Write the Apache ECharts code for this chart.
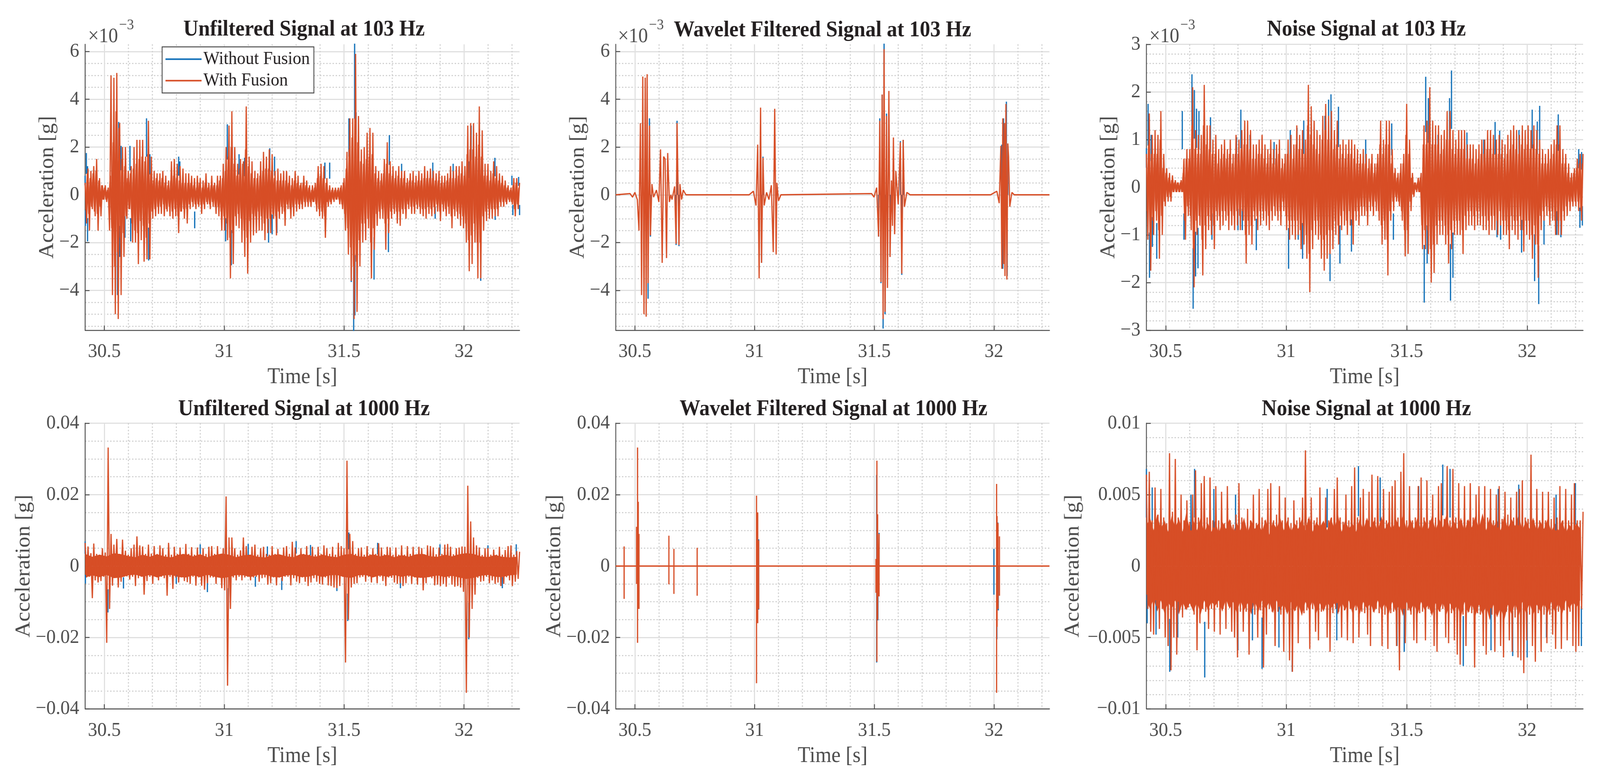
<!DOCTYPE html>
<html>
<head>
<meta charset="utf-8">
<title>Signals</title>
<style>html,body{margin:0;padding:0;background:#fff;overflow:hidden}#main{width:4342px;height:1997px;transform-origin:0 0}</style>
<script src="https://cdn.jsdelivr.net/npm/echarts@6/dist/echarts.min.js"></script>
</head>
<body>
<div id="main"></div>
<script>
// names
var legendNames = ['Without Fusion', 'With Fusion'];
var titles = ['Unfiltered Signal at 103 Hz', 'Wavelet Filtered Signal at 103 Hz', 'Noise Signal at 103 Hz',
              'Unfiltered Signal at 1000 Hz', 'Wavelet Filtered Signal at 1000 Hz', 'Noise Signal at 1000 Hz'];

// x ticks [s]
var tMin = 30.42, tMax = 32.232;
var xMajor = [30.5, 31, 31.5, 32];
var xMinor = [30.6, 30.7, 30.8, 30.9, 31.1, 31.2, 31.3, 31.4, 31.6, 31.7, 31.8, 31.9, 32.1, 32.2];

// y ticks, top row in 1e-3 g
var yMajorA = [-4, -2, 0, 2, 4, 6];
var yMinorA = [-5.5, -5, -4.5, -3.5, -3, -2.5, -1.5, -1, -0.5, 0.5, 1, 1.5, 2.5, 3, 3.5, 4.5, 5, 5.5];
var yMajorN = [-3, -2, -1, 0, 1, 2, 3];
var yMinorN = [-2.8, -2.6, -2.4, -2.2, -1.8, -1.6, -1.4, -1.2, -0.8, -0.6, -0.4, -0.2, 0.2, 0.4, 0.6, 0.8, 1.2, 1.4, 1.6, 1.8, 2.2, 2.4, 2.6, 2.8];
// y ticks, bottom row in 1e-3 g
var yMajorB = [-40, -20, 0, 20, 40];
var yMinorB = [-35, -30, -25, -15, -10, -5, 5, 10, 15, 25, 30, 35];
var yMajorC = [-10, -5, 0, 5, 10];
var yMinorC = [-9, -8, -7, -6, -4, -3, -2, -1, 1, 2, 3, 4, 6, 7, 8, 9];

// signal peaks read every 6 ms starting at tMin, in 1e-3 g
var stepPeaks = 0.006;

var unfiltered103 = [
  0.5,-1.2,1.1,-1.5,1.0,-0.6,1.2,-0.9,1.5,-1.5,
  0.7,-0.9,0.4,-0.2,0.4,-0.3,0.3,-1.5,5.0,-4.2,
  4.9,-5.0,5.1,-5.2,3.0,-4.2,2.0,-2.6,2.0,-1.0,
  1.0,-0.6,1.2,-2.0,2.0,-2.0,2.3,-2.9,2.3,-1.9,
  2.3,-2.8,1.6,-2.7,3.1,-2.7,1.6,-1.0,1.0,-0.9,
  0.9,-0.8,0.9,-0.8,1.0,-0.9,0.8,-0.7,0.6,-0.9,
  1.4,-1.0,1.5,-0.9,1.3,-1.6,1.2,-0.7,1.1,-1.0,
  0.9,-1.2,0.9,-0.6,0.8,-0.5,0.7,-0.6,0.8,-0.5,
  0.7,-0.8,0.6,-0.6,0.9,-0.4,0.5,-0.6,0.8,-0.5,
  0.5,-0.8,0.8,-0.9,0.8,-1.5,1.3,-1.5,2.0,-1.9,
  2.9,-3.5,3.5,-2.9,2.0,-1.3,1.3,-1.4,1.5,-2.0,
  1.4,-2.6,3.7,-3.3,1.6,-2.0,1.4,-1.7,1.0,-1.6,
  0.9,-1.5,1.4,-1.5,1.8,-1.9,1.6,-1.6,1.9,-1.6,
  1.7,-1.0,1.0,-1.7,1.1,-1.0,0.9,-0.8,1.0,-1.3,
  1.0,-0.6,0.8,-1.0,0.7,-0.9,1.0,-0.7,0.8,-0.6,
  0.5,-0.6,0.8,-0.5,0.6,-0.5,0.4,-0.5,0.4,-0.3,
  0.5,-0.7,1.2,-0.9,1.3,-1.0,1.2,-1.8,0.7,-0.5,
  0.4,-0.4,0.3,-0.3,0.3,-0.2,0.3,-0.4,0.4,-0.6,
  0.7,-1.5,1.8,-2.5,3.2,-3.6,3.2,-5.2,5.9,-4.9,
  3.3,-3.0,1.9,-2.0,2.0,-1.9,2.6,-1.4,2.8,-3.5,
  2.6,-2.3,1.2,-1.3,1.0,-1.0,0.9,-1.0,1.5,-2.3,
  2.2,-1.6,1.4,-1.0,1.2,-0.8,1.0,-1.2,1.2,-1.3,
  1.0,-0.8,1.0,-1.0,0.7,-0.6,0.9,-0.8,1.0,-0.8,
  0.8,-0.6,1.0,-0.8,0.9,-0.9,1.2,-1.0,1.0,-0.8,
  1.1,-0.9,1.0,-0.8,0.9,-0.7,1.0,-1.1,0.8,-0.7,
  0.8,-0.9,0.9,-0.8,1.2,-1.4,1.0,-0.9,1.2,-1.0,
  1.2,-1.3,1.4,-1.4,1.2,-2.0,2.9,-3.2,3.0,-2.9,
  3.0,-2.0,2.6,-3.5,3.7,-3.5,2.7,-1.5,1.3,-1.1,
  1.3,-1.0,1.0,-1.0,1.4,-0.9,1.2,-0.9,0.9,-0.5,
  0.8,-0.5,0.6,-0.4,0.4,-0.3,0.3,-0.4,0.7,-0.9,
  0.7,-0.6,0.5
];
// smaller swings between the peaks, 3 ms later
var unfiltered103Inner = [
  -0.6,0.9,-0.8,0.7,-0.5,0.9,-0.7,1.0,-0.8,0.6,
  -0.5,0.4,-0.2,0.3,-0.2,0.2,-0.3,0.8,-1.4,2.2,
  -3.0,3.5,-2.4,2.8,-1.8,1.5,-1.6,1.2,-0.9,0.7,
  -0.6,0.9,-1.2,1.1,-1.5,1.3,-1.6,1.5,-1.1,1.6,
  -1.3,1.4,-1.8,1.7,-1.2,0.9,-0.7,0.6,-0.6,0.7,
  -0.5,0.6,-0.5,0.7,-0.4,0.5,-0.6,0.4,-0.5,0.6,
  -0.7,0.8,-0.6,0.7,-0.9,0.6,-0.7,0.5,-0.6,0.5,
  -0.6,0.5,-0.4,0.5,-0.3,0.4,-0.4,0.3,-0.4,0.5,
  -0.4,0.3,-0.4,0.5,-0.3,0.3,-0.4,0.4,-0.3,0.4,
  -0.5,0.4,-0.5,0.6,-0.7,0.7,-0.9,1.0,-1.2,1.6,
  -1.8,2.0,-1.6,1.3,-0.9,0.8,-0.8,1.1,-1.0,1.3,
  -1.5,1.9,-1.8,1.2,-1.1,0.9,-0.8,0.7,-0.9,0.7,
  -0.7,0.8,-0.9,1.0,-1.2,1.1,-1.0,1.1,-1.0,1.0,
  -0.8,0.7,-0.9,0.6,-0.7,0.6,-0.5,0.6,-0.7,0.6,
  -0.4,0.5,-0.6,0.4,-0.5,0.6,-0.4,0.5,-0.4,0.4,
  -0.4,0.5,-0.3,0.4,-0.3,0.3,-0.3,0.2,-0.3,0.3,
  -0.4,0.7,-0.6,0.8,-0.7,0.7,-0.9,0.5,-0.3,0.2,
  -0.3,0.2,-0.2,0.2,-0.2,0.2,-0.2,0.3,-0.4,0.5,
  -0.8,1.1,-1.4,1.9,-2.2,2.4,-3.0,3.2,-2.8,2.2,
  -1.9,1.4,-1.2,1.3,-1.2,1.5,-1.0,1.6,-2.0,1.7,
  -1.4,0.9,-0.8,0.7,-0.7,0.6,-0.6,0.9,-1.2,1.3,
  -1.0,0.9,-0.7,0.8,-0.6,0.7,-0.7,0.8,-0.7,0.7,
  -0.6,0.7,-0.6,0.5,-0.4,0.6,-0.5,0.6,-0.5,0.5,
  -0.4,0.6,-0.5,0.6,-0.6,0.7,-0.6,0.7,-0.5,0.7,
  -0.6,0.7,-0.5,0.6,-0.4,0.6,-0.7,0.5,-0.4,0.5,
  -0.6,0.6,-0.5,0.7,-0.9,0.7,-0.6,0.7,-0.7,0.8,
  -0.8,0.9,-0.9,0.8,-1.2,1.7,-1.9,1.9,-1.7,1.9,
  -1.2,1.6,-2.0,2.1,-2.0,1.6,-0.9,0.8,-0.7,0.8,
  -0.6,0.6,-0.6,0.9,-0.6,0.7,-0.6,0.6,-0.3,0.5,
  -0.3,0.4,-0.3,0.3,-0.2,0.2,-0.3,0.4,-0.6,0.5,
  -0.4,0.3
];
var unfiltered103Blue = [[30.42,0.8],[30.421,-1.3],[30.425,1.75],[30.43,-1.95],[30.43,1.2],[30.555,-4.2],[30.56,3.05],[30.564,-2.6],[30.57,2.05],[30.586,-1.8],[30.607,2.05],[30.61,-1.95],
  [30.676,3.2],[30.685,-2.75],[30.69,1.7],[30.81,1.6],[30.815,1.4],[30.877,-1.4],[31.006,-1.95],[31.013,2.95],[31.03,-2.95],[31.034,2.0],[31.062,1.7],[31.085,1.55],[31.185,-2.0],[31.19,1.95],[31.2,-1.65],[31.21,1.6],[31.22,-1.6],[31.26,0.95],[31.42,1.35],[31.44,1.35],
  [31.52,3.2],[31.53,-3.65],[31.54,-5.75],[31.544,6.35],[31.545,-5.05],[31.55,3.45],[31.625,-3.55],[31.68,1.85],[31.685,-2.4],[31.689,2.5],[31.74,1.3],[31.87,1.35],[31.88,-1.0],[31.955,1.3],[32.02,1.4],[32.03,2.9],[32.065,2.75],[32.07,-3.6],[32.129,1.55],[32.13,-1.05],[32.2,0.8],[32.204,-0.85],[32.228,0.75],[32.232,-0.85]];

// wavelet filtered signal is flat between bursts, so its turning points are listed with their times
var wavelet103Times = [
  30.42,30.48,30.49,30.5,30.51,30.517,30.523,30.528,30.533,30.538,30.543,30.547,30.551,30.555,30.561,30.565,30.571,30.578,30.59,30.6,
  30.607,30.614,30.62,30.626,30.632,30.637,30.644,30.65,30.655,30.666,30.672,30.676,30.684,30.688,30.695,30.702,30.713,
  30.977,30.995,31.006,31.013,31.019,31.025,31.029,31.035,31.04,31.05,31.06,31.07,31.078,31.084,31.09,31.093,31.1,31.11,
  31.489,31.499,31.51,31.518,31.523,31.528,31.533,31.537,31.541,31.545,31.551,31.555,31.561,31.566,31.572,31.576,31.58,31.585,31.59,31.6,31.609,31.615,31.621,31.626,31.636,31.65,
  31.986,32.012,32.022,32.029,32.033,32.037,32.04,32.044,32.046,32.05,32.054,32.058,32.061,32.066,32.075,32.085,32.232
];
var wavelet103Values = [
  0,0.05,-0.1,0.1,-0.2,-1.5,3.0,-4.2,4.95,-5.0,4.9,-5.1,5.05,-3.7,2.9,-1.7,0.45,-0.1,0.2,-0.3,
  1.9,-2.85,1.6,1.5,-2.65,1.75,-0.3,0,-0.2,0.35,-2.05,3.0,-2.1,0.45,-0.2,0.2,0,
  0,0.15,-0.45,2.1,-3.5,3.65,-2.85,1.55,-0.45,0.1,-0.2,0.4,-2.4,3.6,-2.5,0.5,-0.25,0,
  0.05,-0.1,0.3,-1.75,3.1,-3.65,4.2,-5.2,6.1,-4.9,3.3,-3.9,4.35,-2.6,0.6,-1.3,2.4,-1.65,1.0,-0.4,2.2,-3.3,2.3,-0.5,0.1,0,
  0,0.15,-0.35,2.05,-3.1,3.2,-2.9,3.0,-3.4,3.8,-3.55,2.15,1.6,-0.5,0.1,0,0
];
var wavelet103Blue = [[30.555,-4.35],[30.561,3.2],[30.565,-1.75],[30.672,-2.1],[30.676,3.1],[30.684,-2.15],[31.029,-2.85],[31.035,1.6],[31.518,-1.75],[31.523,3.2],[31.528,-3.7],[31.533,4.2],[31.537,-5.6],[31.541,6.35],[31.545,-5.0],[31.551,3.4],[31.566,-2.6],[31.609,2.25],[31.615,-3.35],[31.621,2.3],[32.033,2.1],[32.037,-3.1],[32.04,3.2],[32.052,3.9],[32.055,-3.4],[32.058,1.6]];

var noise103 = [
  0.7,-1.1,1.55,-1.75,1.1,-1.0,1.2,-0.7,1.1,-1.5,
  1.6,-1.0,0.7,-0.4,0.4,-0.3,0.3,-0.3,0.25,-0.1,
  0.15,-0.1,0.1,-0.1,0.15,-0.1,0.6,-1.1,0.8,-0.6,
  0.8,-0.9,2.1,-2.1,1.2,-1.0,1.1,-0.8,1.1,-1.85,
  2.15,-1.3,1.3,-0.9,1.3,-1.0,1.0,-1.3,1.1,-0.7,
  0.8,-0.9,0.9,-0.8,1.0,-0.7,0.8,-0.9,1.0,-0.8,
  0.7,-0.9,1.1,-0.8,1.0,-0.9,1.2,-0.7,1.4,-1.6,
  1.4,-1.0,1.2,-1.2,0.9,-0.7,0.9,-0.9,1.0,-0.8,
  1.1,-0.7,0.9,-0.8,0.8,-0.9,1.0,-0.7,0.8,-0.6,
  0.9,-0.7,1.0,-0.8,0.6,-0.5,0.7,-0.9,1.0,-1.1,
  1.1,-1.0,0.9,-1.1,1.3,-1.0,1.1,-1.3,1.2,-1.2,
  1.0,-1.5,2.15,-2.2,1.7,-1.3,1.4,-1.0,1.2,-1.1,
  1.1,-1.5,1.5,-1.75,1.75,-1.5,1.5,-1.4,1.6,-1.3,
  1.2,-1.0,1.4,-1.2,0.9,-0.9,1.0,-0.8,0.9,-1.0,
  1.0,-0.8,1.0,-1.2,0.9,-0.7,0.8,-0.8,0.7,-0.6,
  0.8,-0.6,0.7,-0.8,0.6,-0.5,0.7,-0.6,0.5,-0.5,
  0.7,-0.7,1.4,-1.2,1.0,-1.1,1.4,-1.85,1.4,-0.7,
  0.8,-0.5,0.4,-0.3,0.3,-0.4,0.5,-0.7,0.7,-1.45,
  1.75,-1.4,1.0,-0.5,0.3,-0.2,0.1,-0.1,0.2,-0.1,
  0.3,-1.3,1.3,-1.3,1.4,-1.4,2.1,-2.0,1.4,-1.8,
  1.3,-1.2,1.3,-1.0,1.1,-1.0,1.2,-1.2,1.6,-1.6,
  1.6,-1.3,1.2,-1.0,1.0,-1.0,1.2,-1.0,1.2,-1.4,
  1.2,-0.9,0.9,-0.8,0.9,-0.8,0.9,-0.9,0.8,-0.8,
  0.9,-0.8,1.0,-0.9,1.0,-0.9,1.2,-1.0,1.2,-0.9,
  1.1,-0.9,1.0,-1.0,1.1,-0.8,1.0,-1.0,0.9,-1.0,
  1.1,-1.3,1.2,-0.9,1.3,-1.0,1.2,-1.1,1.1,-0.9,
  1.3,-1.35,1.2,-1.0,1.3,-1.1,1.2,-1.5,1.3,-1.2,
  1.2,-1.9,1.0,-0.9,0.8,-0.7,0.7,-0.6,0.8,-0.8,
  0.9,-0.7,1.0,-1.0,1.3,-1.0,1.3,-1.0,0.8,-0.7,
  0.7,-0.6,0.5,-0.5,0.3,-0.4,0.4,-0.4,0.6,-0.5,
  0.7,-0.7,0.7
];
var noise103Inner = [
  -0.5,0.9,-1.0,0.7,-0.7,0.7,-0.5,0.7,-0.9,1.0,
  -0.6,0.4,-0.3,0.3,-0.2,0.2,-0.2,0.15,-0.1,0.1,
  -0.1,0.1,-0.1,0.1,-0.1,0.3,-0.7,0.6,-0.4,0.6,
  -0.6,1.3,-1.3,0.8,-0.7,0.7,-0.6,0.7,-1.1,1.3,
  -0.8,0.9,-0.6,0.8,-0.7,0.7,-0.8,0.7,-0.5,0.5,
  -0.6,0.6,-0.5,0.7,-0.5,0.6,-0.6,0.7,-0.5,0.5,
  -0.6,0.7,-0.5,0.7,-0.6,0.8,-0.5,0.9,-1.0,0.9,
  -0.7,0.8,-0.8,0.6,-0.5,0.6,-0.6,0.7,-0.5,0.7,
  -0.5,0.6,-0.5,0.5,-0.6,0.7,-0.5,0.5,-0.4,0.6,
  -0.5,0.7,-0.5,0.4,-0.3,0.5,-0.6,0.7,-0.7,0.7,
  -0.7,0.6,-0.7,0.9,-0.7,0.8,-0.9,0.8,-0.8,0.7,
  -1.0,1.3,-1.4,1.1,-0.9,0.9,-0.7,0.8,-0.7,0.7,
  -1.0,1.0,-1.1,1.2,-1.0,1.0,-0.9,1.0,-0.9,0.8,
  -0.7,0.9,-0.8,0.6,-0.6,0.7,-0.5,0.6,-0.7,0.7,
  -0.5,0.7,-0.8,0.6,-0.5,0.5,-0.5,0.5,-0.4,0.5,
  -0.4,0.5,-0.5,0.4,-0.3,0.5,-0.4,0.3,-0.3,0.5,
  -0.5,0.9,-0.8,0.7,-0.7,0.9,-1.1,0.9,-0.5,0.5,
  -0.3,0.3,-0.2,0.2,-0.3,0.3,-0.5,0.5,-0.9,1.1,
  -0.9,0.7,-0.3,0.2,-0.15,0.1,-0.05,0.1,-0.1,0.2,
  -0.8,0.9,-0.9,0.9,-0.9,1.3,-1.3,0.9,-1.2,0.9,
  -0.8,0.9,-0.7,0.7,-0.7,0.8,-0.8,1.0,-1.0,1.0,
  -0.9,0.8,-0.7,0.7,-0.7,0.8,-0.7,0.8,-0.9,0.8,
  -0.6,0.6,-0.5,0.6,-0.5,0.6,-0.6,0.5,-0.5,0.6,
  -0.5,0.7,-0.6,0.7,-0.6,0.8,-0.7,0.8,-0.6,0.7,
  -0.6,0.7,-0.7,0.7,-0.5,0.7,-0.7,0.6,-0.7,0.7,
  -0.9,0.8,-0.6,0.9,-0.7,0.8,-0.7,0.7,-0.6,0.9,
  -0.9,0.8,-0.7,0.9,-0.7,0.8,-1.0,0.9,-0.8,0.8,
  -1.2,0.7,-0.6,0.5,-0.5,0.5,-0.4,0.5,-0.5,0.6,
  -0.5,0.7,-0.7,0.9,-0.7,0.9,-0.7,0.5,-0.5,0.5,
  -0.4,0.3,-0.3,0.2,-0.3,0.3,-0.3,0.4,-0.3,0.5,
  -0.5,0.5
];
var noise103Blue = [[30.42,0.82],[30.427,1.75],[30.433,-1.9],[30.44,1.1],[30.445,-1.25],[30.463,-1.5],[30.569,1.6],[30.576,-1.1],[30.609,2.37],[30.614,-2.55],[30.619,2.04],[30.624,-1.87],[30.628,1.65],[30.634,-1.7],[30.638,1.6],[30.686,1.47],[30.692,-1.1],[30.794,1.05],[30.8,-0.9],[30.812,1.63],[30.818,-0.9],[30.85,1.1],[30.876,-1.32],[30.95,0.95],[31.01,-1.71],[31.017,1.2],[31.045,1.25],[31.05,-1.1],[31.068,-1.5],[31.073,1.4],[31.161,1.5],[31.176,1.84],[31.182,-1.97],[31.186,1.95],[31.217,1.69],[31.223,-1.6],[31.26,0.95],[31.271,-1.35],[31.33,1.0],[31.438,1.34],[31.445,-1.1],[31.573,-2.42],[31.579,2.32],[31.585,-1.6],[31.59,1.87],[31.63,1.1],[31.678,1.87],[31.682,-2.38],[31.686,2.45],[31.692,-1.9],[31.75,1.15],[31.82,1.0],[31.867,1.37],[31.875,-1.05],[31.886,1.19],[31.89,-1.1],[31.966,1.2],[31.977,-1.37],[32.021,1.63],[32.031,-1.97],[32.042,1.38],[32.048,-2.45],[32.052,1.71],[32.07,-1.2],[32.123,-1.0],[32.129,1.53],[32.14,-1.05],[32.214,0.8],[32.219,-0.85],[32.226,0.74],[32.229,-0.8]];

var unfiltered1000 = [
  6.5,-3.2,5.5,-3.0,3.6,-9.0,6.3,-4.0,3.4,-4.6,
  3.2,-4.2,5.0,-3.0,3.8,-21.5,33.2,-12.0,9.0,-5.5,
  6.0,-3.2,7.6,-6.0,3.4,-4.4,7.4,-3.0,4.3,-2.9,
  3.2,-3.8,5.0,-3.0,6.0,-5.6,8.3,-3.4,5.8,-3.0,
  5.5,-8.0,3.4,-4.2,6.0,-3.0,3.5,-5.0,5.6,-3.0,
  3.4,-4.0,5.8,-3.0,5.0,-3.4,3.2,-8.3,6.5,-3.0,
  3.2,-6.4,5.4,-3.2,3.4,-4.6,5.2,-3.2,3.4,-4.2,
  6.2,-4.5,3.4,-5.0,5.3,-3.0,3.2,-5.5,5.2,-3.2,
  3.4,-5.5,5.0,-6.6,3.4,-4.8,5.4,-3.2,5.6,-3.2,
  3.4,-5.0,5.6,-3.2,3.3,-6.2,5.0,-6.8,19.5,-33.5,
  8.0,-12.0,8.0,-3.2,5.0,-4.0,3.2,-3.0,4.4,-4.0,
  8.0,-3.2,5.6,-3.0,3.2,-4.0,5.4,-3.2,6.0,-3.0,
  3.2,-4.4,5.0,-3.4,5.4,-3.2,3.4,-5.2,3.2,-4.8,
  5.6,-3.2,3.4,-5.4,4.8,-3.2,3.2,-4.2,5.2,-3.0,
  5.6,-3.0,3.4,-5.4,6.8,-3.4,5.2,-4.4,3.0,-4.8,
  5.0,-3.2,3.4,-4.4,5.6,-5.6,3.2,-4.6,5.4,-3.4,
  3.2,-4.4,5.4,-5.0,3.4,-5.2,5.8,-3.2,5.0,-5.4,
  3.4,-5.6,5.4,-6.0,3.2,-6.2,6.5,-5.6,5.6,-3.0,
  5.0,-27.0,29.5,-15.0,9.0,-6.0,7.0,-5.0,3.4,-4.8,
  5.0,-3.2,5.2,-3.0,3.2,-4.4,5.6,-3.0,3.3,-4.6,
  5.0,-3.0,3.4,-4.8,6.4,-3.0,5.2,-4.2,3.3,-5.6,
  5.4,-3.2,5.2,-3.3,3.2,-4.6,5.2,-5.0,3.2,-4.8,
  5.8,-5.6,3.2,-4.8,5.6,-3.0,3.4,-5.0,5.4,-3.2,
  3.2,-5.2,5.4,-3.3,5.0,-6.8,3.3,-4.8,5.8,-3.1,
  5.6,-3.4,5.2,-5.4,3.3,-5.2,5.2,-5.6,3.4,-5.0,
  6.0,-5.8,6.2,-3.3,5.4,-5.2,3.3,-5.8,5.0,-5.6,
  5.2,-6.0,5.5,-7.2,5.4,-35.5,22.5,-20.0,12.5,-12.0,
  8.0,-8.0,5.8,-3.3,5.2,-4.4,3.1,-4.2,5.0,-3.0,
  5.0,-4.8,3.2,-4.0,4.6,-5.0,3.2,-4.6,5.4,-5.6,
  3.2,-5.0,4.5,-3.1,5.6,-4.0,5.8,-5.6,3.2,-4.4,
  4.2,-3.6,4.0
];
// solid part read every 30 ms
var unfiltered1000BandUp = [3.4,2.6,3.2,2.7,3.6,3.3,2.8,2.5,3.2,2.6,3.3,2.7,2.4,3.2,3.4,2.7,3.3,2.5,3.1,3.5,3.2,2.5,3.0,3.2,2.6,2.4,3.1,3.3,2.7,2.5,3.4,3.1,2.6,3.2,2.7,2.5,3.2,3.4,2.7,2.6,3.3,2.7,3.2,2.5,3.1,2.6,3.3,3.4,2.7,2.6,3.2,2.7,3.3,3.6,3.4,2.7,2.5,3.1,2.6,2.4,2.6];
var unfiltered1000BandDown = [-3.2,-2.6,-3.1,-2.5,-3.4,-3.2,-2.6,-2.4,-3.0,-2.5,-3.2,-2.6,-2.5,-3.1,-3.2,-2.6,-3.1,-2.4,-3.0,-3.4,-3.1,-2.5,-2.6,-3.1,-2.5,-2.4,-3.0,-3.2,-2.6,-2.5,-3.1,-3.0,-2.5,-3.1,-2.6,-2.5,-3.1,-3.3,-2.6,-2.5,-3.2,-2.6,-3.0,-2.5,-3.0,-2.6,-3.2,-3.3,-3.0,-2.6,-3.1,-2.7,-3.2,-3.6,-3.3,-2.7,-2.5,-3.0,-3.1,-2.6,-2.4];
var unfiltered1000Blue = [[30.42,6.9],[30.421,-4.9],[30.515,-13],[30.58,-6.3],[30.8,-5.0],[30.9,6.1],[30.93,-7.3],[31.017,-12.4],[31.1,6.2],[31.13,-5.8],[31.18,5.5],[31.24,-6.7],[31.3,7.0],[31.36,5.9],[31.47,-7.0],[31.515,-15.4],[31.52,9.4],[31.64,6.5],[31.735,-6.2],[31.9,6.1],[32.02,-20.5],[32.1,5.8],[32.16,-6.2],[32.218,6.1]];

// wavelet 1000 Hz: spike time, top, bottom
var wavelet1000Spikes = [[30.455,5.5,-9.2],[30.507,11,-5],[30.511,33.2,-21.5],[30.514,18,-12],[30.517,9,-12],[30.642,8.5,-5.1],[30.663,4.8,-7.8],[30.76,5.1,-8.3],
  [31.008,19.7,-32.8],[31.013,15,-16],[31.017,7.2,-12],[31.507,2,-7.5],[31.511,29.5,-26.8],[31.514,14.5,-15],[31.518,5,-8.5],[31.52,9,-8.5],
  [32.011,23,-35.5],[32.013,14,-17],[32.017,12,-12],[32.023,8.3,-8.3]];
var wavelet1000Blue = [[31.017,7.5],[31.017,-12.2],[31.51,25.5],[31.51,-27],[31.515,-15.2],[31.52,9.3],[32,4.8],[32,-8],[32.012,-20.5],[32.016,12.2],[32.018,-12.4]];

var noise1000 = [
  6.4,-3.0,6.6,-4.6,3.2,-4.8,5.5,-2.8,3.6,-4.4,
  5.4,-3.0,3.4,-5.0,3.0,-5.6,7.9,-7.3,3.8,-5.0,
  7.5,-6.2,3.4,-3.0,5.0,-3.6,3.2,-3.0,4.6,-2.9,
  3.1,-2.8,5.0,-3.4,6.7,-5.9,3.4,-4.0,5.8,-3.0,
  6.3,-3.2,3.4,-4.4,6.2,-3.0,3.2,-4.6,5.6,-2.9,
  3.2,-4.8,5.2,-3.0,3.0,-4.4,5.6,-2.8,3.2,-4.6,
  2.9,-5.0,3.6,-6.4,5.8,-3.2,3.4,-4.6,3.0,-3.2,
  4.0,-6.2,3.2,-3.0,5.0,-3.4,3.0,-5.0,5.4,-3.1,
  3.4,-7.1,3.2,-4.8,5.4,-3.0,5.8,-3.2,3.2,-5.6,
  3.6,-3.2,5.6,-3.4,3.2,-6.0,4.8,-3.2,3.4,-6.6,
  3.0,-7.4,4.6,-3.1,3.2,-5.4,3.4,-3.0,4.8,-3.3,
  8.1,-3.1,3.3,-5.8,4.8,-3.0,3.2,-4.6,3.4,-5.2,
  5.5,-3.2,3.0,-3.0,4.8,-5.0,3.2,-6.0,3.4,-3.3,
  5.4,-3.0,6.2,-3.2,3.4,-5.0,3.1,-3.1,5.0,-5.2,
  3.2,-3.0,5.6,-5.4,6.9,-3.1,3.4,-5.0,4.8,-3.2,
  5.4,-3.3,3.2,-4.8,5.2,-5.6,6.4,-3.2,3.4,-3.0,
  6.3,-3.3,3.2,-5.6,5.4,-3.4,3.2,-5.8,5.2,-3.3,
  5.6,-3.2,6.0,-5.6,3.4,-7.3,6.6,-3.1,7.9,-5.4,
  3.2,-3.1,5.6,-3.4,3.2,-5.2,3.4,-5.4,5.6,-3.3,
  6.2,-3.2,3.4,-5.2,6.0,-3.0,3.2,-3.3,5.0,-5.6,
  3.4,-6.0,5.6,-3.2,5.8,-3.0,3.3,-5.0,7.0,-5.4,
  3.2,-3.3,6.8,-5.2,3.4,-6.2,5.8,-6.9,3.2,-3.4,
  5.6,-5.6,3.2,-3.2,5.8,-3.3,3.4,-7.1,5.0,-3.3,
  5.6,-3.4,3.2,-5.6,5.6,-6.2,3.4,-3.3,5.4,-3.4,
  3.2,-6.0,5.0,-3.4,5.6,-5.6,3.3,-6.4,5.2,-3.2,
  3.6,-5.2,4.8,-6.0,3.4,-3.6,5.2,-6.4,5.4,-6.6,
  6.0,-7.5,3.4,-5.2,3.3,-3.4,7.8,-5.6,3.2,-6.7,
  5.4,-3.3,3.2,-6.0,5.2,-3.4,3.2,-5.4,5.2,-3.4,
  3.3,-4.8,4.8,-5.8,3.4,-3.2,5.6,-5.8,3.2,-3.1,
  5.4,-5.2,3.2,-3.2,5.0,-5.6,5.8,-6.0,3.2,-5.6,
  3.2,-3.0,3.8
];
// solid part read every 15 ms
var noise1000BandUp = [
  2.8,3.4,2.5,3.6,2.6,3.2,2.4,3.5,2.7,3.3,2.4,3.7,2.6,3.2,2.5,3.4,2.3,3.0,2.4,3.2,
  2.3,3.1,2.6,3.3,2.4,3.0,2.5,3.4,2.3,3.2,2.6,3.0,2.4,3.3,2.2,3.1,2.6,3.4,2.5,3.2,
  2.4,3.0,2.6,3.3,2.5,3.5,2.4,3.1,2.7,3.2,2.5,3.4,2.6,3.6,2.4,3.2,2.6,3.0,2.4,3.3,
  2.5,3.4,2.7,3.2,2.4,3.5,2.6,3.1,2.5,3.3,2.7,3.6,2.5,3.3,2.6,3.4,2.4,3.2,2.6,3.5,
  2.5,3.3,2.7,3.6,2.5,3.2,2.6,3.4,2.4,3.3,2.7,3.5,2.6,3.7,2.5,3.4,2.7,3.2,2.5,3.5,
  2.6,3.3,2.8,3.6,2.5,3.2,2.6,3.4,2.4,3.1,2.6,3.3,2.4,3.0,2.5,3.2,2.3,2.9,2.5,3.0,2.6
];
var noise1000BandDown = [
  -2.4,-3.0,-2.3,-3.2,-2.4,-3.3,-2.5,-3.0,-2.4,-3.4,-2.5,-3.1,-2.6,-3.2,-2.5,-3.4,-2.4,-3.1,-2.5,-2.8,
  -2.4,-3.2,-2.3,-3.0,-2.5,-3.3,-2.4,-3.1,-2.6,-3.4,-2.5,-3.2,-2.4,-3.0,-2.5,-3.3,-2.4,-3.1,-2.6,-3.4,
  -2.5,-3.2,-2.6,-3.5,-2.5,-3.1,-2.4,-3.3,-2.6,-3.2,-2.5,-3.0,-2.6,-3.4,-2.5,-3.1,-2.4,-3.3,-2.6,-3.4,
  -2.5,-3.0,-2.6,-3.3,-2.4,-3.1,-2.6,-3.4,-2.5,-3.2,-2.7,-3.5,-2.5,-3.2,-2.6,-3.4,-2.5,-3.1,-2.7,-3.5,
  -2.6,-3.2,-2.5,-3.4,-2.6,-3.2,-2.7,-3.6,-2.5,-3.3,-2.6,-3.5,-2.7,-3.4,-2.8,-3.8,-2.7,-3.6,-2.9,-3.8,
  -2.7,-3.4,-2.6,-3.5,-2.5,-3.3,-2.6,-3.4,-2.7,-3.2,-2.6,-3.3,-2.5,-3.2,-2.6,-3.4,-2.4,-3.0,-2.5,-2.9,-2.4
];
var noise1000Blue = [[30.42,6.8],[30.423,-4.0],[30.444,5.5],[30.46,-4.8],[30.51,-5.6],[30.517,-7.4],[30.55,-5.0],[30.605,5.0],[30.62,6.8],[30.662,-7.8],[30.7,5.4],[30.79,5.0],[30.8,-5.9],[30.86,-5.2],[30.9,-7.2],[30.97,-5.7],[31.025,-7.4],[31.08,6.1],[31.17,5.4],[31.21,-5.2],[31.3,7.0],[31.39,6.2],[31.46,-5.6],[31.49,-6.0],[31.55,5.6],[31.65,7.1],[31.68,6.8],[31.735,-7.0],[31.85,-5.9],[31.88,5.4],[31.94,-6.3],[31.965,5.7],[32.0,-6.4],[32.04,5.2],[32.08,-5.0],[32.12,5.0],[32.2,5.8],[32.225,-5.6]];

var colorBlue = '#0F6FB8', colorOrange = '#D74E26';
var axisColor = '#4D4D4D', titleColor = '#231F20';
var serif = '"Liberation Serif", "Times New Roman", serif';

function sampled(values, step, start) {
    return values.map(function (v, i) { return [(start || tMin) + i * step, v]; });
}
function paired(times, values) {
    return times.map(function (t, i) { return [t, values[i]]; });
}
// a blue tip is a separate stroke, the rest of the blue trace stays under the orange one
function tips(list, base) {
    var res = [];
    list.forEach(function (p) { res.push([p[0], p[1] * base], [p[0], p[1]], [p[0], null]); });
    return res;
}
function spikes(list) {
    var res = [[tMin, 0]];
    list.forEach(function (s) { res.push([s[0], 0], [s[0], s[1]], [s[0], s[2]], [s[0], 0]); });
    res.push([tMax, 0]);
    return res;
}
function minusSign(v) { return String(v).replace('-', '\u2212'); }
function plainLabel(v) { return minusSign(v); }
function milliLabel(v) { return minusSign(Math.round(v * 10) / 10000); }

var panels = [
    {left: 231, top: 113.5, width: 1179, height: 732, yMin: -5.67, yMax: 6.3, major: yMajorA, minor: yMinorA, label: plainLabel, nameGap: 59,
     titleX: 820, titleY: 71, exp: 239, orange: sampled(unfiltered103, stepPeaks), blue: tips(unfiltered103Blue, 0.5),
     inner: sampled(unfiltered103Inner, stepPeaks, tMin + 0.003)},
    {left: 1671, top: 113.5, width: 1177, height: 732, yMin: -5.67, yMax: 6.3, major: yMajorA, minor: yMinorA, label: plainLabel, nameGap: 58,
     titleX: 2227, titleY: 73, exp: 1677, orange: paired(wavelet103Times, wavelet103Values), blue: tips(wavelet103Blue, 0)},
    {left: 3111, top: 113.5, width: 1185, height: 732, yMin: -3, yMax: 3, major: yMajorN, minor: yMinorN, label: plainLabel, nameGap: 60,
     titleX: 3703, titleY: 71, exp: 3119, orange: sampled(noise103, stepPeaks), blue: tips(noise103Blue, 0.5),
     inner: sampled(noise103Inner, stepPeaks, tMin + 0.003)},
    {left: 231, top: 1083.5, width: 1179, height: 731.5, yMin: -40, yMax: 40, major: yMajorB, minor: yMinorB, label: milliLabel, nameGap: 138,
     titleX: 820, titleY: 1043, orange: sampled(unfiltered1000, stepPeaks), blue: tips(unfiltered1000Blue, 0.5),
     bandUp: unfiltered1000BandUp, bandDown: unfiltered1000BandDown, bandStep: 0.03},
    {left: 1671, top: 1083.5, width: 1177, height: 731.5, yMin: -40, yMax: 40, major: yMajorB, minor: yMinorB, label: milliLabel, nameGap: 136,
     titleX: 2257, titleY: 1043, orange: spikes(wavelet1000Spikes), blue: tips(wavelet1000Blue, 0)},
    {left: 3111, top: 1083.5, width: 1185, height: 731.5, yMin: -10, yMax: 10, major: yMajorC, minor: yMinorC, label: milliLabel, nameGap: 171,
     titleX: 3703, titleY: 1043, orange: sampled(noise1000, stepPeaks), blue: tips(noise1000Blue, 0.5),
     bandUp: noise1000BandUp, bandDown: noise1000BandDown, bandStep: 0.015}
];

var grid = [], xAxis = [], yAxis = [], series = [], title = [], graphic = [];

function lineSeries(name, idx, data, color) {
    return {
        name: name, type: 'line', xAxisIndex: idx * 2, yAxisIndex: idx * 2, data: data,
        showSymbol: false, symbol: 'none', animation: false, sampling: false, silent: true,
        lineStyle: {color: color, width: 3.3, join: 'bevel'}, itemStyle: {color: color}
    };
}
function bandSeries(idx, values, step) {
    var s = lineSeries('band', idx, sampled(values, step), colorOrange);
    s.lineStyle = {width: 0, color: colorOrange};
    s.areaStyle = {color: colorOrange, opacity: 1};
    return s;
}

panels.forEach(function (p, i) {
    grid.push({left: p.left, top: p.top, width: p.width, height: p.height, containLabel: false});
    title.push({
        text: titles[i], left: p.titleX, top: p.titleY, textAlign: 'center', textVerticalAlign: 'middle',
        textStyle: {fontFamily: serif, fontWeight: 'bold', fontSize: 56.5, color: titleColor}
    });

    // main axes carry labels, ticks and the solid grid, the second pair only the dotted minor grid
    xAxis.push({
        type: 'value', gridIndex: i, min: tMin, max: tMax, name: 'Time [s]', nameLocation: 'middle', nameGap: 93,
        nameTextStyle: {fontFamily: serif, fontSize: 56, color: axisColor},
        axisLine: {onZero: false, lineStyle: {color: axisColor, width: 2.4}},
        axisTick: {inside: true, length: 12, customValues: xMajor, lineStyle: {color: axisColor, width: 2.4}},
        axisLabel: {customValues: xMajor, margin: 30, fontFamily: serif, fontSize: 51, color: axisColor, formatter: plainLabel},
        splitLine: {show: true, lineStyle: {color: '#E0E0E0', width: 3}}
    }, {
        type: 'value', gridIndex: i, min: tMin, max: tMax,
        axisLine: {show: false, onZero: false},
        axisTick: {show: false, customValues: xMinor},
        axisLabel: {show: false},
        splitLine: {show: true, lineStyle: {color: '#CFCFCF', width: 3, type: [3.5, 5]}}
    });
    yAxis.push({
        type: 'value', gridIndex: i, min: p.yMin, max: p.yMax, name: 'Acceleration [g]', nameLocation: 'middle', nameGap: p.nameGap,
        nameTextStyle: {fontFamily: serif, fontSize: 56, color: axisColor},
        axisLine: {onZero: false, lineStyle: {color: axisColor, width: 2.4}},
        axisTick: {inside: true, length: 12, customValues: p.major, lineStyle: {color: axisColor, width: 2.4}},
        axisLabel: {customValues: p.major, margin: 16, fontFamily: serif, fontSize: 51, color: axisColor, formatter: p.label},
        splitLine: {show: true, lineStyle: {color: '#E0E0E0', width: 3}}
    }, {
        type: 'value', gridIndex: i, min: p.yMin, max: p.yMax,
        axisLine: {show: false, onZero: false},
        axisTick: {show: false, customValues: p.minor},
        axisLabel: {show: false},
        splitLine: {show: true, lineStyle: {color: '#CFCFCF', width: 3, type: [3.5, 5]}}
    });

    series.push(lineSeries(legendNames[0], i, p.blue, colorBlue));
    if (p.bandUp) {
        series.push(bandSeries(i, p.bandUp, p.bandStep), bandSeries(i, p.bandDown, p.bandStep));
    }
    if (p.inner) {
        series.push(lineSeries('inner', i, p.inner, colorOrange));
    }
    series.push(lineSeries(legendNames[1], i, p.orange, colorOrange));

    if (p.exp) {
        graphic.push({type: 'text', left: p.exp, top: 68, style: {text: '\u00D710', fontFamily: serif, fontSize: 52, fill: axisColor}});
        graphic.push({type: 'text', left: p.exp + 84, top: 46, style: {text: '\u22123', fontFamily: serif, fontSize: 38, fill: axisColor}});
    }
});

// the layout is for 4342 wide, the browser window can be narrower
var dom = document.getElementById('main');
if (window.innerWidth < 4342) {
    dom.style.transform = 'scaleX(' + (window.innerWidth / 4342) + ')';
}
var myChart = echarts.init(dom, null, {renderer: 'canvas'});
myChart.setOption({
    backgroundColor: '#fff',
    animation: false,
    title: title,
    grid: grid,
    xAxis: xAxis,
    yAxis: yAxis,
    series: series,
    graphic: graphic,
    legend: {
        data: legendNames, orient: 'vertical', left: 440, top: 120, padding: [8, 11, 8, 9], itemGap: 8,
        itemWidth: 98, itemHeight: 4, icon: 'rect', backgroundColor: '#fff',
        borderColor: axisColor, borderWidth: 2.4,
        textStyle: {fontFamily: serif, fontSize: 46.5, color: titleColor}
    }
});
</script>
</body>
</html>
